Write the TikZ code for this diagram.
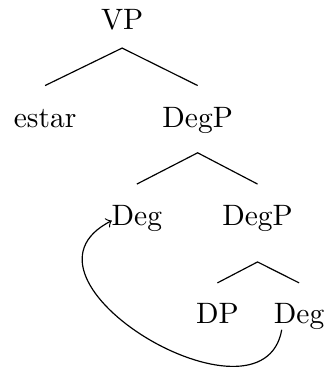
\documentclass[tikz,border=0pt]{standalone}
\usepackage{tikz}
\usetikzlibrary{arrows}
\tikzstyle{cat} = [text height=1.5ex, text depth=.25ex]
\tikzstyle{branch} = [thin]
\tikzstyle{move} = [thin,->]
\begin{document}
\begin{tikzpicture}[node distance=33.2pt]
        \useasboundingbox (-41.4pt,-118.9pt) rectangle (69.1pt,7.2pt);
        \node (vp) [cat] {VP};
        \node (estar) [cat, below of=vp, xshift=-26.1pt] {estar};
        \node (degp1) [cat, below of=vp, xshift=25.6pt] {DegP};
        \node (deg1) [cat, below of=degp1, xshift=-20.6pt] {Deg};
        \node (degp2) [cat, below of=degp1, xshift=20.3pt] {DegP};
        \node (dp) [cat, below of=degp2, xshift=-13.6pt] {DP};
        \node (deg2) [cat, below of=degp2, xshift=14.1pt] {Deg};
        \draw [branch] ([yshift=14.1pt]estar.base) -- ([yshift=-6.4pt]vp.base) -- ([yshift=14.1pt]degp1.base);
        \draw [branch] ([yshift=13.9pt]deg1.base) -- ([yshift=-8.7pt]degp1.base) -- ([yshift=13.9pt]degp2.base);
        \draw [branch] ([yshift=13.6pt]dp.base) -- ([yshift=-12.5pt]degp2.base) -- ([yshift=13.6pt]deg2.base);
        \draw [move] ([xshift=-5.9pt, yshift=-2.3pt]deg2.base) .. controls +(-100:37pt) and +(207:44pt) .. ([xshift=-8.5pt, yshift=1.5pt]deg1.base);
\end{tikzpicture}
\end{document}
